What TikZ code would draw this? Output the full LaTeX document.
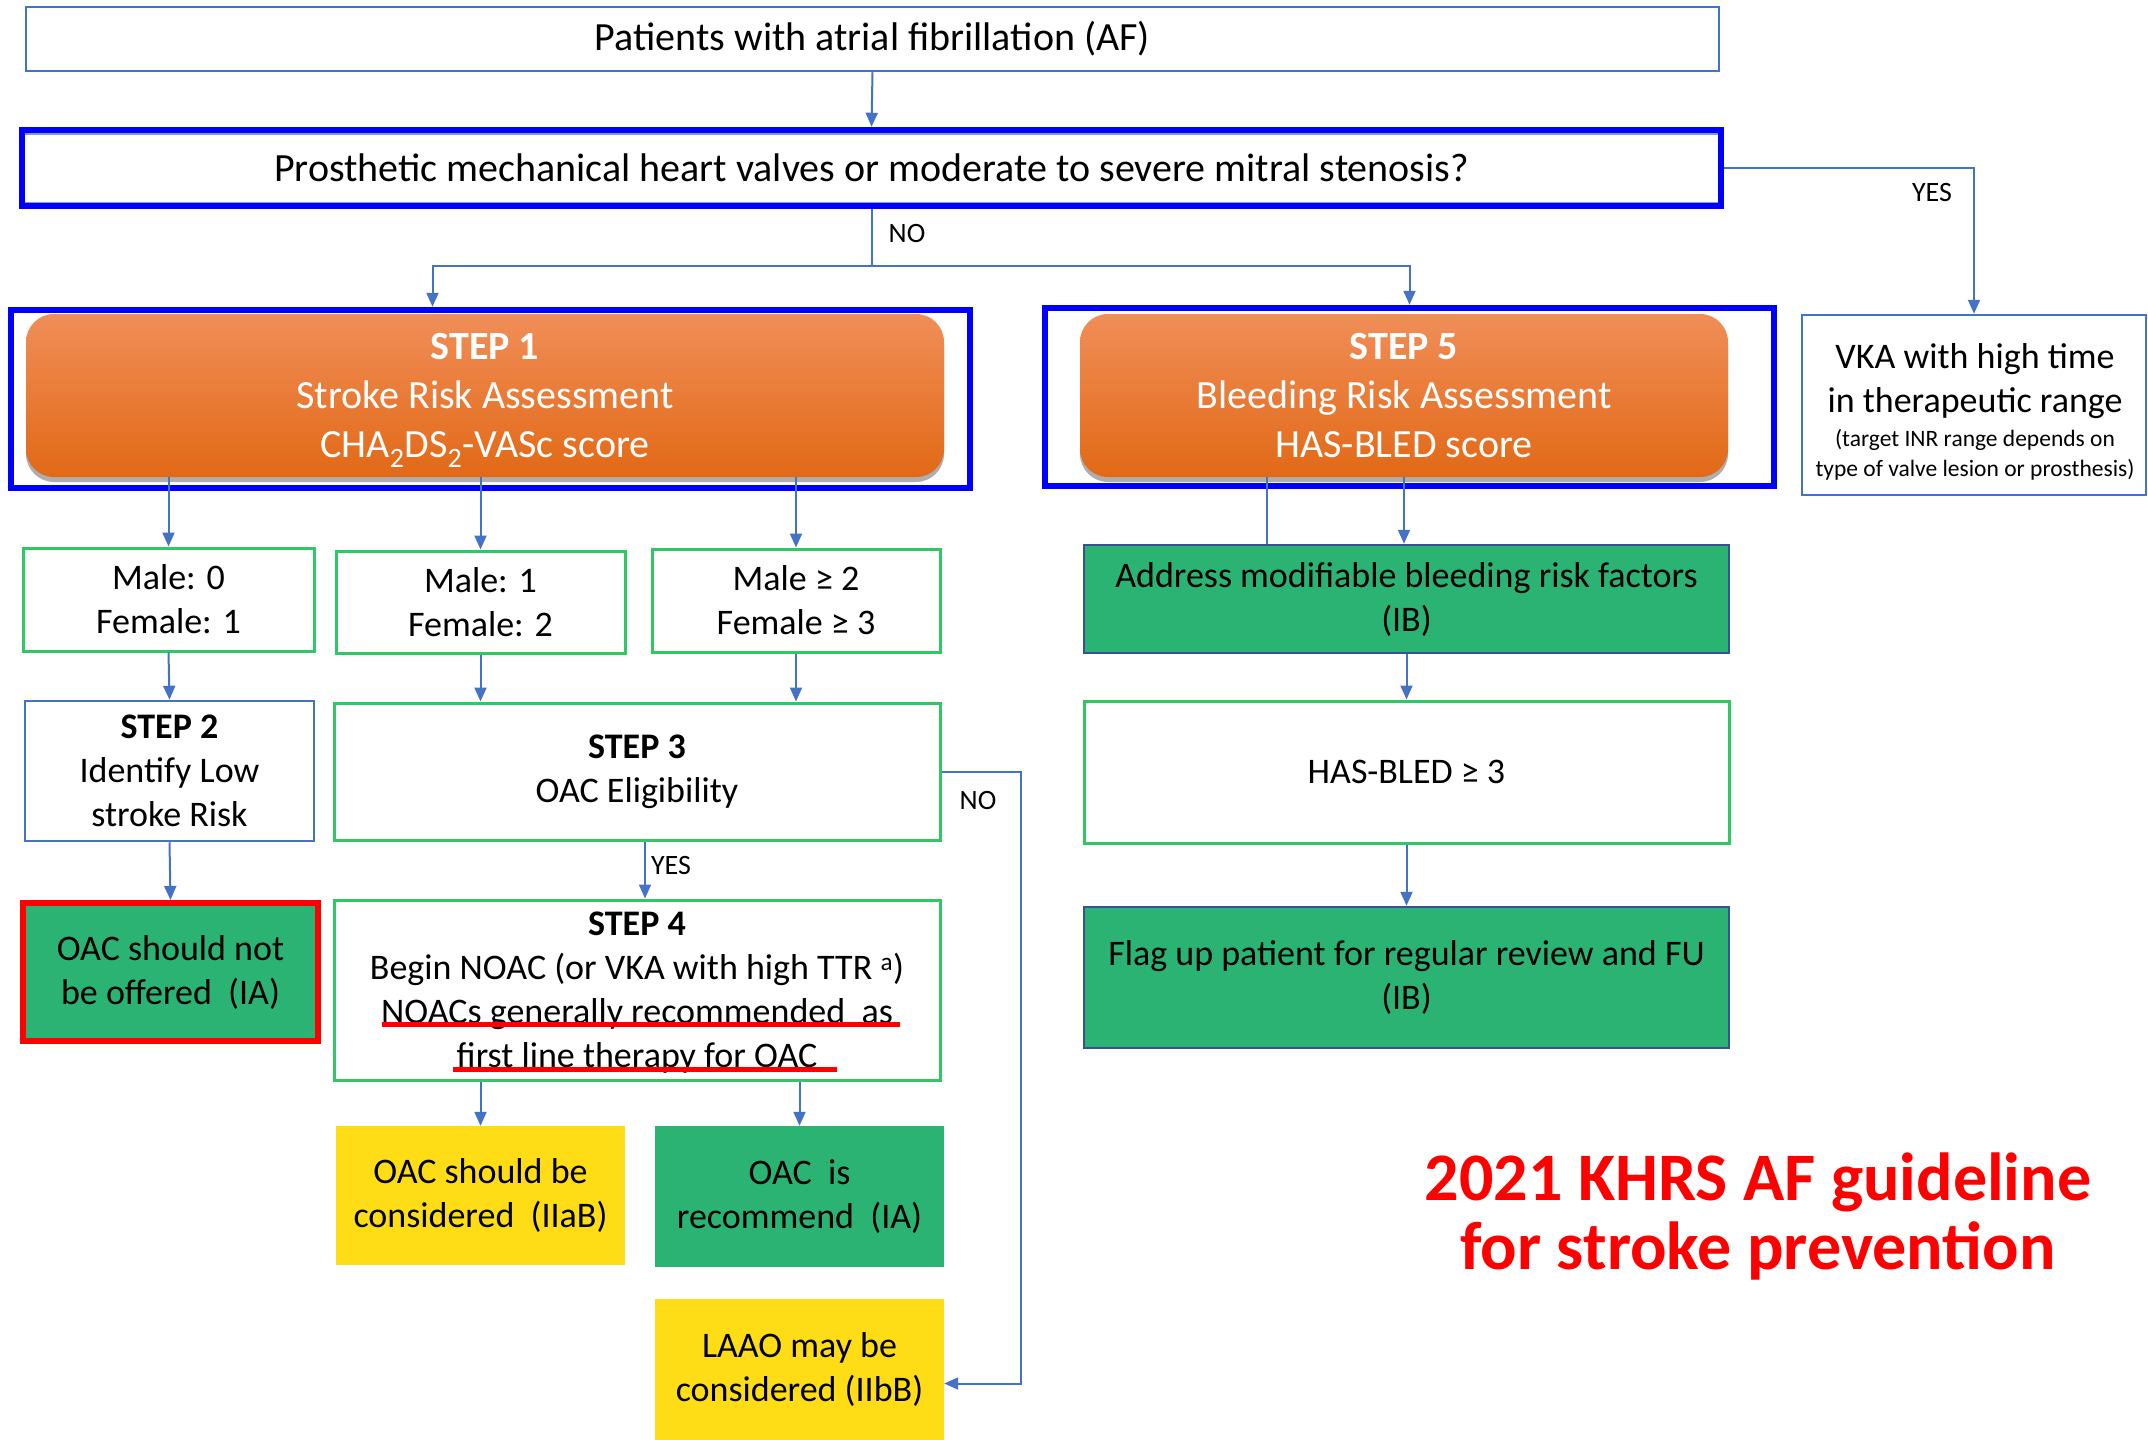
\documentclass[tikz,border=0pt]{standalone}
\usepackage{fontspec}
\setmainfont{Carlito}
\usetikzlibrary{arrows.meta,shadows,calc}
\definecolor{connc}{RGB}{68,114,196}
\definecolor{bframe}{RGB}{0,0,255}
\definecolor{gborder}{RGB}{46,200,100}
\definecolor{gfill}{RGB}{43,179,116}
\definecolor{yfill}{RGB}{254,221,22}
\definecolor{bgray}{RGB}{68,114,196}
\definecolor{dborder}{RGB}{55,80,150}
\definecolor{orTop}{RGB}{240,142,88}
\definecolor{orMid}{RGB}{243,124,40}
\definecolor{orBot}{RGB}{226,105,22}
\definecolor{titlered}{RGB}{255,0,0}
\begin{document}
\begin{tikzpicture}[x=1pt,y=-1pt,
  base/.style={inner sep=0pt, align=center, font=\fontsize{36}{44}\selectfont, text=black},
  gbox/.style={base, draw=gborder, line width=3pt, fill=white},
  bbox/.style={base, draw=bgray, line width=2.5pt, fill=white},
  greenbox/.style={base, fill=gfill, draw=dborder, line width=2.5pt},
  ybox/.style={base, fill=yfill},
  frame/.style={draw=bframe, line width=6.5pt, inner sep=0pt},
  orbox/.style={base, rounded corners=28pt, top color=orTop, middle color=orMid, bottom color=orBot,
     text=white, font=\fontsize{40}{49}\selectfont,
     drop shadow={shadow xshift=0pt, shadow yshift=-5pt, opacity=0.45, fill=black!70}},
  conn/.style={draw=connc, line width=2pt, -{Triangle[length=14pt,width=12pt]}},
  link/.style={draw=connc, line width=2pt},
  lbl/.style={font=\fontsize{28}{32}\selectfont, inner sep=0pt},
  redline/.style={draw=red, line width=5pt},
  sz/.style 2 args={minimum width=#1pt, minimum height=#2pt}
]
\useasboundingbox (0,0) rectangle (2148,1440);
\fill[white] (0,0) rectangle (2148,1440);

% top boxes
\node[bbox, sz={1693}{64}, font=\fontsize{40}{48}\selectfont] (A) at (872.5,39) {Patients with atrial fibrillation (AF)};
\node[base, frame, fill=white, sz={1699}{76}, font=\fontsize{40}{48}\selectfont] (B) at (871.5,168) {Prosthetic mechanical heart valves or moderate to severe mitral stenosis?};
\draw[bgray!70, line width=1.5pt] ([shift={(6pt,-7pt)}]B.north west) -- ([shift={(-6pt,-7pt)}]B.north east);
\draw[bgray!70, line width=1.5pt] ([shift={(6pt,7pt)}]B.south west) -- ([shift={(-6pt,7pt)}]B.south east);

% step 1 and step 5
\node[frame, sz={959}{178}] (s1f) at (490.5,399) {};
\node[orbox, sz={918}{163}] (s1) at (485,395.5) {\textbf{STEP 1}\\Stroke Risk Assessment\\CHA\smash{\textsubscript{2}}DS\smash{\textsubscript{2}}-VASc score};
\node[frame, sz={729}{178}] (s5f) at (1409.5,397) {};
\node[orbox, sz={648}{163}] (s5) at (1404,395.5) {\textbf{STEP 5}\\Bleeding Risk Assessment\\HAS-BLED score};

\node[bbox, sz={344}{180}] (vka) at (1974,405) {};
\node[base] (vkatext) at (1975,412) {VKA with high time\\in therapeutic range\\[-10pt]{\fontsize{23.5}{26}\selectfont (target INR range depends on}\\[-14pt]{\fontsize{23.5}{26}\selectfont type of valve lesion or prosthesis)}};

% male/female
\node[gbox, sz={291}{103}] (m0) at (168.5,599.5) {Male: 0\\Female: 1};
\node[gbox, sz={289}{102}] (m1) at (480.5,602) {Male: 1\\Female: 2};
\node[gbox, sz={288}{103}] (m2) at (796,600.5) {Male ≥ 2\\Female ≥ 3};

\node[bbox, sz={289}{140}] (st2) at (169.5,771) {\textbf{STEP 2}\\Identify Low\\stroke Risk};
\node[gbox, sz={606}{137}] (st3) at (637,771.5) {\textbf{STEP 3}\\OAC Eligibility};

\node[base, fill=gfill, draw=red, line width=6pt, sz={295}{138}] (oacnot) at (170.5,972) {OAC should not\\be offered\ \ (IA)};
\node[gbox, sz={606}{180}] (st4) at (637,990) {};
\node[base] (st4text) at (637,993) {\textbf{STEP 4}\\Begin NOAC (or VKA with high TTR \textsuperscript{a})\\NOACs generally recommended\ \ as\\first line therapy for OAC};

\node[ybox, sz={289}{139}] (y1) at (480.5,1195.5) {OAC should be\\considered\ \ (IIaB)};
\node[base, fill=gfill, sz={289}{141}] (g1) at (799.5,1196.5) {OAC\ \ is\\recommend\ \ (IA)};
\node[ybox, sz={289}{141}] (laao) at (799.5,1369.5) {LAAO may be\\considered (IIbB)};

\node[greenbox, sz={645}{108}] (addr) at (1406.5,599) {Address modifiable bleeding risk factors\\(IB)};
\node[gbox, sz={645}{142}] (has) at (1406.5,772) {HAS-BLED ≥ 3};
\node[greenbox, sz={645}{141}] (flag) at (1406.5,977.5) {Flag up patient for regular review and FU\\(IB)};

% red underlines
\draw[redline] (382,1024) -- (900,1024);
\draw[redline] (453,1069) -- (837,1069);

% connectors
\draw[conn] (A.south) -- (B.north);
\draw[link] (B.south) -- ++(0,57) coordinate (split);
\draw[conn] (split) -| ([xshift=-58pt]s1f.north);
\draw[conn] (split) -| (s5f.north);
\draw[conn] (B.east) -| (vka.north);
\node[lbl] (no1) at (907,234) {NO};
\node[lbl] (yes1) at (1932,193) {YES};

\draw[conn] (m0.north |- s1.south) -- (m0.north);
\draw[conn] (m1.north |- s1.south) -- (m1.north);
\draw[conn] (m2.north |- s1.south) -- (m2.north);

\draw[conn] (m0.south) -- (st2.north);
\draw[conn] (m1.south) -- (m1.south |- st3.north);
\draw[conn] (m2.south) -- (m2.south |- st3.north);

\draw[conn] ([xshift=8pt]st3.south) -- ([xshift=8pt]st4.north);
\node[lbl] (yes2) at (671,866) {YES};
\draw[conn] (st3.east) -- ++(79,0) |- ([yshift=-14pt]laao.east);
\node[lbl] (no2) at (978,801) {NO};

\draw[conn] (st2.south) -- (oacnot.north);
\draw[conn] (y1.north |- st4.south) -- (y1.north);
\draw[conn] (g1.north |- st4.south) -- (g1.north);

\draw[link] ([xshift=-140pt]addr.north |- s5.south) -- ([xshift=-140pt]addr.north);
\draw[conn] (s5.south) -- (s5.south |- addr.north);
\draw[conn] (addr.south) -- (has.north);
\draw[conn] (has.south) -- (flag.north);

% title
\node[text=titlered, align=center, font=\fontsize{68}{69}\bfseries\selectfont, inner sep=0pt] (title) at (1758,1216) {2021 KHRS AF guideline\\for stroke prevention};
\end{tikzpicture}
\end{document}
